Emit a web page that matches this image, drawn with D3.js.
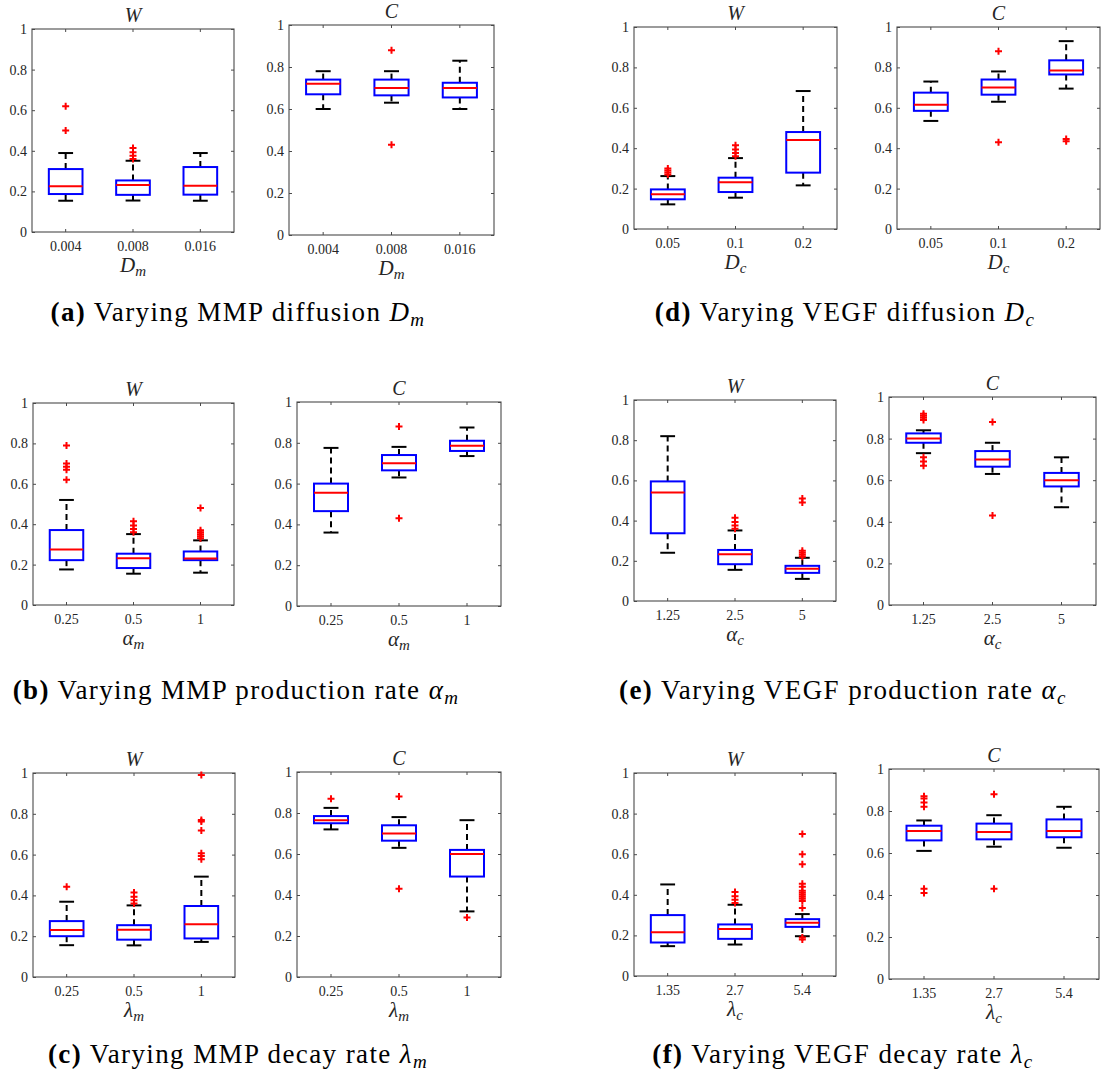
<!DOCTYPE html>
<html><head><meta charset="utf-8">
<script src="https://cdn.jsdelivr.net/npm/d3@7"></script>
<style>body{margin:0;background:#fff} svg{display:block}</style>
</head><body>
<script>
// ---------- data ----------
const catsDm = ["0.004","0.008","0.016"];
const catsDc = ["0.05","0.1","0.2"];
const catsAm = ["0.25","0.5","1"];
const catsAc = ["1.25","2.5","5"];
const catsLm = ["0.25","0.5","1"];
const catsLc = ["1.35","2.7","5.4"];
const yTicks = [0,0.2,0.4,0.6,0.8,1];
const yTickLabels = ["0","0.2","0.4","0.6","0.8","1"];

// each box: [lower whisker, Q1, median, Q3, upper whisker]
const aW = [[0.154,0.187,0.225,0.31,0.389],[0.155,0.183,0.232,0.254,0.351],[0.154,0.184,0.228,0.32,0.389]];
const aW_out = [[0.50,0.62],[0.36,0.376,0.393,0.414],[]];
const aC = [[0.60,0.67,0.72,0.74,0.78],[0.63,0.665,0.70,0.74,0.78],[0.60,0.655,0.70,0.725,0.83]];
const aC_out = [[],[0.43,0.88],[]];

const dW = [[0.122,0.147,0.172,0.196,0.262],[0.155,0.183,0.232,0.254,0.351],[0.216,0.279,0.44,0.48,0.683]];
const dW_out = [[0.27,0.28,0.29,0.30],[0.36,0.376,0.393,0.414],[]];
const dC = [[0.535,0.585,0.615,0.675,0.73],[0.63,0.665,0.70,0.74,0.78],[0.695,0.765,0.785,0.835,0.93]];
const dC_out = [[],[0.43,0.88],[0.435,0.445]];

const bW = [[0.176,0.222,0.275,0.371,0.52],[0.155,0.183,0.232,0.254,0.351],[0.16,0.222,0.23,0.265,0.32]];
const bW_out = [[0.62,0.67,0.685,0.70,0.79],[0.36,0.376,0.393,0.414],[0.33,0.34,0.35,0.36,0.37,0.48]];
const bC = [[0.36,0.465,0.555,0.60,0.775],[0.63,0.665,0.70,0.74,0.78],[0.735,0.76,0.785,0.81,0.875]];
const bC_out = [[],[0.43,0.88],[]];

const eW = [[0.24,0.337,0.54,0.595,0.82],[0.155,0.183,0.232,0.254,0.351],[0.11,0.14,0.16,0.175,0.215]];
const eW_out = [[],[0.36,0.376,0.393,0.414],[0.22,0.23,0.24,0.25,0.49,0.51]];
const eC = [[0.73,0.78,0.80,0.825,0.84],[0.63,0.665,0.70,0.74,0.78],[0.47,0.57,0.60,0.635,0.71]];
const eC_out = [[0.67,0.69,0.71,0.89,0.90,0.91,0.92],[0.43,0.88],[]];

const cW = [[0.156,0.20,0.23,0.274,0.369],[0.155,0.183,0.232,0.254,0.351],[0.172,0.189,0.259,0.348,0.492]];
const cW_out = [[0.443],[0.36,0.376,0.393,0.414],[0.577,0.593,0.607,0.718,0.762,0.77,0.99]];
const cC = [[0.72,0.75,0.765,0.785,0.825],[0.63,0.665,0.70,0.74,0.78],[0.32,0.49,0.60,0.62,0.765]];
const cC_out = [[0.87],[0.43,0.88],[0.29]];

const fW = [[0.147,0.165,0.216,0.30,0.451],[0.155,0.183,0.232,0.254,0.351],[0.196,0.242,0.262,0.28,0.305]];
const fW_out = [[],[0.36,0.376,0.393,0.414],[0.18,0.19,0.335,0.37,0.38,0.39,0.40,0.41,0.42,0.44,0.455,0.55,0.60,0.70]];
const fC = [[0.61,0.66,0.705,0.73,0.755],[0.63,0.665,0.70,0.74,0.78],[0.625,0.675,0.705,0.76,0.82]];
const fC_out = [[0.41,0.43,0.82,0.84,0.86,0.87],[0.43,0.88],[]];

const captionLabels = ["(a)","(b)","(c)","(d)","(e)","(f)"];
const captionTexts = ["Varying MMP diffusion","Varying MMP production rate","Varying MMP decay rate",
                      "Varying VEGF diffusion","Varying VEGF production rate","Varying VEGF decay rate"];
const captionSymbols = [["D","m"],["α","m"],["λ","m"],["D","c"],["α","c"],["λ","c"]];

// ---------- layout ----------
const FONT = "'Liberation Serif', 'Times New Roman', serif";
const panels = [
  {d:aW,o:aW_out,cats:catsDm,t:"W",xl:captionSymbols[0],x:32, y:29, w:202,h:203},
  {d:aC,o:aC_out,cats:catsDm,t:"C",xl:captionSymbols[0],x:289,y:25, w:205,h:210},
  {d:dW,o:dW_out,cats:catsDc,t:"W",xl:captionSymbols[3],x:634,y:27, w:203,h:202},
  {d:dC,o:dC_out,cats:catsDc,t:"C",xl:captionSymbols[3],x:897,y:27, w:203,h:202},
  {d:bW,o:bW_out,cats:catsAm,t:"W",xl:captionSymbols[1],x:33, y:403,w:201,h:202},
  {d:bC,o:bC_out,cats:catsAm,t:"C",xl:captionSymbols[1],x:297,y:402,w:204,h:204},
  {d:eW,o:eW_out,cats:catsAc,t:"W",xl:captionSymbols[4],x:634,y:400,w:202,h:201},
  {d:eC,o:eC_out,cats:catsAc,t:"C",xl:captionSymbols[4],x:889,y:397,w:207,h:208},
  {d:cW,o:cW_out,cats:catsLm,t:"W",xl:captionSymbols[2],x:33, y:773,w:202,h:204},
  {d:cC,o:cC_out,cats:catsLm,t:"C",xl:captionSymbols[2],x:297,y:772,w:204,h:205},
  {d:fW,o:fW_out,cats:catsLc,t:"W",xl:captionSymbols[5],x:634,y:773,w:202,h:203},
  {d:fC,o:fC_out,cats:catsLc,t:"C",xl:captionSymbols[5],x:889,y:769,w:210,h:210}
];
const captionPos = [[238,321],[236,699],[238,1063],[845,321],[843,699],[843,1063]];

const svg = d3.select("body").append("svg").attr("width",1108).attr("height",1080)
  .style("font-family",FONT);

const AX = "#4a4a4a";

panels.forEach(p => {
  const g = svg.append("g").attr("transform",`translate(${p.x},${p.y})`);
  const x = d3.scaleBand().domain(p.cats).range([0,p.w]).padding(0);
  const y = d3.scaleLinear().domain([0,1]).range([p.h,0]);
  const bw = x.bandwidth();

  // axes (inward ticks on all four sides)
  const left = g.append("g").call(d3.axisLeft(y).tickValues(yTicks)
     .tickFormat((d,i)=>yTickLabels[i]).tickSizeInner(-3).tickSizeOuter(0).tickPadding(5));
  const bottom = g.append("g").attr("transform",`translate(0,${p.h})`)
     .call(d3.axisBottom(x).tickSizeInner(-3).tickSizeOuter(0).tickPadding(9));
  const right = g.append("g").attr("transform",`translate(${p.w},0)`)
     .call(d3.axisRight(y).tickValues(yTicks).tickFormat("").tickSizeInner(-3).tickSizeOuter(0));
  const top = g.append("g")
     .call(d3.axisTop(x).tickFormat("").tickSizeInner(-3).tickSizeOuter(0));
  [left,bottom,right,top].forEach(a=>{
    a.select(".domain").remove();
    a.selectAll("line").attr("stroke",AX);
    a.selectAll("text").attr("fill","#262626").style("font-size","14px").style("font-family",FONT);
  });
  g.append("rect").attr("width",p.w).attr("height",p.h)
    .attr("fill","none").attr("stroke",AX).attr("stroke-width",1.1);

  // boxes
  p.d.forEach((s,i)=>{
    const cx = x(p.cats[i]) + bw/2;
    const half = bw*0.25, cap = bw*0.11;
    const bg = g.append("g");
    // whiskers
    bg.append("line").attr("x1",cx).attr("x2",cx).attr("y1",y(s[3])).attr("y2",y(s[4]))
      .attr("stroke","#000").attr("stroke-width",2).attr("stroke-dasharray","6,4");
    bg.append("line").attr("x1",cx).attr("x2",cx).attr("y1",y(s[1])).attr("y2",y(s[0]))
      .attr("stroke","#000").attr("stroke-width",2).attr("stroke-dasharray","6,4");
    // caps
    [s[0],s[4]].forEach(v=>{
      bg.append("line").attr("x1",cx-cap).attr("x2",cx+cap).attr("y1",y(v)).attr("y2",y(v))
        .attr("stroke","#000").attr("stroke-width",2);
    });
    // box
    bg.append("rect").attr("x",cx-half).attr("width",2*half)
      .attr("y",y(s[3])).attr("height",y(s[1])-y(s[3]))
      .attr("fill","none").attr("stroke","#0000ff").attr("stroke-width",2);
    // median
    bg.append("line").attr("x1",cx-half).attr("x2",cx+half).attr("y1",y(s[2])).attr("y2",y(s[2]))
      .attr("stroke","#ff0000").attr("stroke-width",2);
    // outliers
    p.o[i].forEach(v=>{
      bg.append("path").attr("transform",`translate(${cx},${y(v)})`)
        .attr("d","M-3.5,0H3.5M0,-3.5V3.5").attr("stroke","#ff0000").attr("stroke-width",2);
    });
  });

  // title
  g.append("text").attr("x",p.w/2).attr("y",-7).attr("text-anchor","middle")
    .style("font-size","20px").style("font-style","italic").attr("fill","#262626").text(p.t);
  // x label
  const xl = g.append("text").attr("x",p.w/2).attr("y",p.h+40).attr("text-anchor","middle")
    .style("font-size","21px").style("font-style","italic").attr("fill","#262626");
  xl.append("tspan").text(p.xl[0]);
  xl.append("tspan").attr("dy",4).style("font-size","15px").text(p.xl[1]);
});

// captions
captionPos.forEach((c,i)=>{
  const t = svg.append("text").attr("x",c[0]).attr("y",c[1]).attr("text-anchor","middle")
    .style("font-size","27px").style("letter-spacing","1.4px").attr("fill","#000");
  t.append("tspan").style("font-weight","bold").text(captionLabels[i]);
  t.append("tspan").text(" " + captionTexts[i] + " ");
  t.append("tspan").style("font-style","italic").text(captionSymbols[i][0]);
  t.append("tspan").style("font-style","italic").style("font-size","19px").attr("dy",5).text(captionSymbols[i][1]);
});
</script>
</body></html>
